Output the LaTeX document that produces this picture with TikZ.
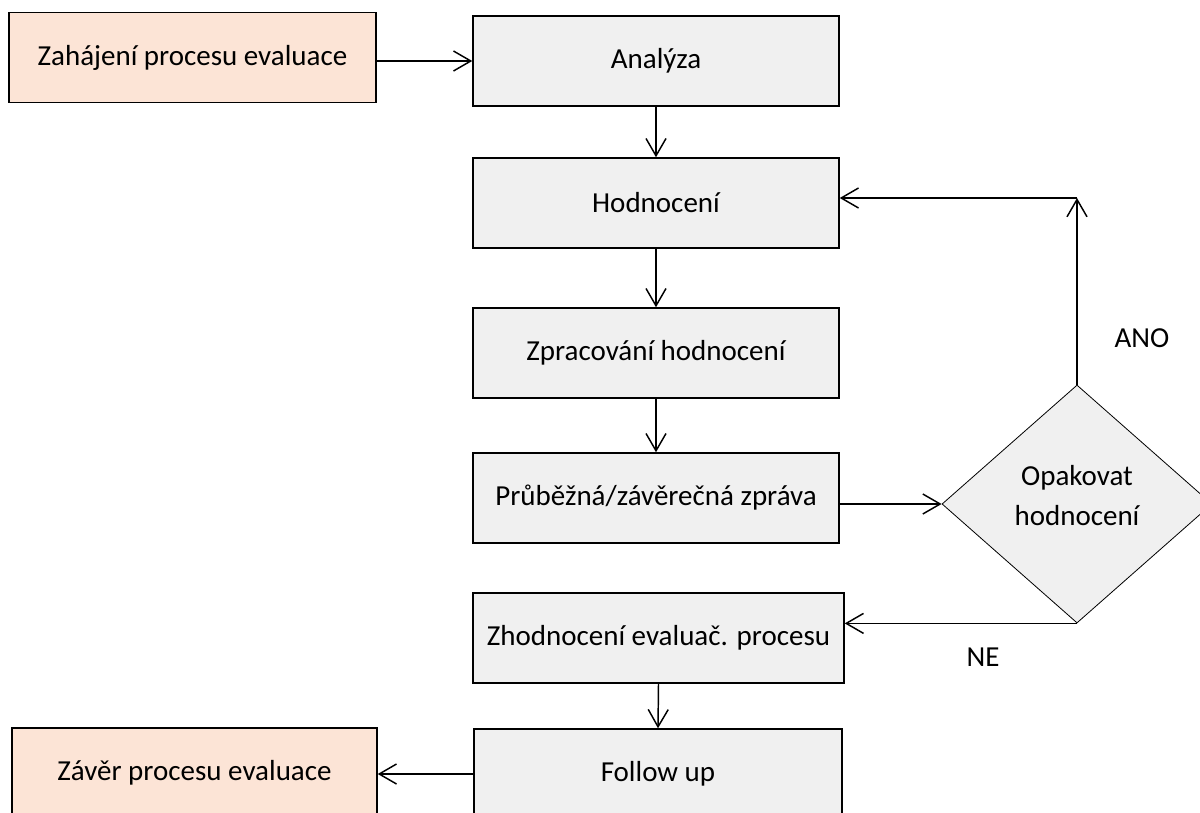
\documentclass[tikz,border=0pt]{standalone}
\usepackage{fontspec}
\setmainfont{Carlito}
\usetikzlibrary{arrows.meta,shapes.geometric}
\definecolor{peach}{HTML}{FCE4D6}
\definecolor{boxgrey}{HTML}{F0F0F0}
\tikzset{
  stepbox/.style={draw=black, line width=1.1pt, fill=boxgrey, minimum width=274.5pt, minimum height=67.5pt, inner sep=0pt, font=\fontsize{21.75pt}{30pt}\selectfont},
  endbox/.style={stepbox, fill=peach},
  decision/.style={diamond, draw=black, line width=0.6pt, fill=boxgrey, minimum width=202.5pt, minimum height=178.5pt, inner sep=0pt},
  dtext/.style={align=center, inner sep=0pt, font=\fontsize{21.75pt}{30pt}\selectfont},
  lbl/.style={font=\fontsize{21.75pt}{26pt}\selectfont, inner sep=0pt},
  conn/.style={draw=black, line width=1.1pt, -{Straight Barb[length=13pt, width=15pt, line width=1.1pt]}},
}
\begin{document}
\begin{tikzpicture}[x=0.75pt, y=-0.75pt]
\useasboundingbox (0,0) rectangle (1200,813);
\clip (0,0) rectangle (1200,813);
\fill[white] (0,0) rectangle (1200,813);
\node[endbox, minimum width=275.25pt] (zah) at (192.5,57.5) {Zahájení procesu evaluace};
\node[stepbox] (ana) at (656,61) {Analýza};
\node[stepbox] (hod) at (656,203) {Hodnocení};
\node[stepbox] (zpr) at (656,353) {Zpracování hodnocení};
\node[stepbox] (pru) at (656,498) {Průběžná/závěrečná zpráva};
\node[decision, label={[dtext, yshift=6pt]center:Opakovat\\hodnocení}] (dia) at (1077,504) {};
\node[stepbox, minimum width=278.25pt] (zho) at (658.5,638) {Zhodnocení evaluač. procesu};
\node[stepbox, minimum width=276pt] (fol) at (658,774) {Follow up};
\node[endbox, minimum width=273.75pt] (zav) at (194.5,773) {Závěr procesu evaluace};
\coordinate (corner) at (1077,198);
\node[lbl] (ano) at (1142,338) {ANO};
\node[lbl] (ne) at (983,657) {NE};
\draw[conn] (ana.west -| zah.east) -- (ana.west);
\draw[conn] (ana.south) -- (hod.north);
\draw[conn] (hod.south) -- (zpr.north);
\draw[conn] (zpr.south) -- (pru.north);
\draw[conn] (dia.west -| pru.east) -- (dia.west);
\draw[conn] (dia.north) -- (corner);
\draw[conn] (corner) -- (corner -| hod.east);
\draw[conn] (dia.south) -- (dia.south -| zho.east);
\draw[conn] (zho.south) -- (fol.north);
\draw[conn] (fol.west) -- (fol.west -| zav.east);
\end{tikzpicture}
\end{document}
